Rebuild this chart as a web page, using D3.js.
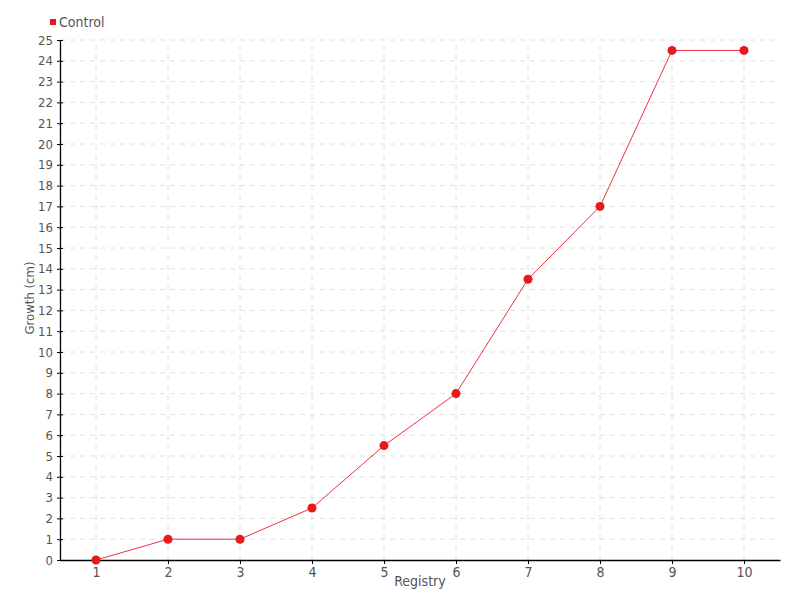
<!DOCTYPE html>
<html><head><meta charset="utf-8">
<script src="https://cdn.jsdelivr.net/npm/d3@7"></script>
<style>
body{margin:0;background:#fff;}
text{font-family:"DejaVu Sans Condensed","Liberation Sans Narrow",sans-serif;font-stretch:condensed;}
</style></head>
<body>
<svg id="c" width="800" height="600"></svg>
<script>
const registry = [1,2,3,4,5,6,7,8,9,10];
const control = [0,1,1,2.5,5.5,8,13.5,17,24.5,24.5];
const yTicks = d3.range(0,26);
const seriesName = "Control";
const color = "#e41a1c";

const svg = d3.select("#c");
const m = {l:60, r:20, t:40, b:40};
const W = 800, H = 600;
const x = d3.scaleLinear().domain([0.5,10.5]).range([m.l, W-m.r]);
const y = d3.scaleLinear().domain([0,25]).range([H-m.b, m.t]);

const g = svg.append("g");
g.selectAll(".gx").data(registry).enter().append("line")
 .attr("x1",d=>x(d)).attr("x2",d=>x(d)).attr("y1",y(0)).attr("y2",y(25))
 .attr("stroke","#e0e0e0").attr("stroke-dasharray","5,5");
g.selectAll(".gy").data(yTicks.filter(d=>d>0)).enter().append("line")
 .attr("x1",x(0.5)).attr("x2",x(10.5)).attr("y1",d=>y(d)).attr("y2",d=>y(d))
 .attr("stroke","#e0e0e0").attr("stroke-dasharray","5,5");

const xa = svg.append("g").attr("transform",`translate(0,${y(0)})`)
 .call(d3.axisBottom(x).tickValues(registry).tickSize(4).tickSizeOuter(0).tickPadding(3));
const ya = svg.append("g").attr("transform",`translate(${x(0.5)},0)`)
 .call(d3.axisLeft(y).tickValues(yTicks).tickSize(3).tickSizeOuter(0).tickPadding(4));
[xa,ya].forEach(a=>{
  a.select(".domain").attr("stroke","#000").attr("stroke-width",1.3);
  a.selectAll(".tick line").attr("stroke","#000");
  a.selectAll("text").attr("fill","#555").attr("font-size",14);
});
ya.selectAll("text").attr("font-size",13);
ya.selectAll(".tick line").attr("x2",3).attr("x1",-3);

svg.append("text").attr("x",420).attr("y",586).attr("text-anchor","middle")
 .attr("fill","#555").attr("font-size",14).text("Registry");
svg.append("text").attr("transform","translate(34,298) rotate(-90)").attr("text-anchor","middle")
 .attr("fill","#555").attr("font-size",13).text("Growth (cm)");

const line = d3.line().x((d,i)=>x(registry[i])).y(d=>y(d));
svg.append("path").datum(control).attr("d",line).attr("fill","none")
 .attr("stroke","#f0303f").attr("stroke-width",1);
svg.selectAll(".pt").data(control).enter().append("circle")
 .attr("cx",(d,i)=>x(registry[i])).attr("cy",d=>y(d)).attr("r",4.5).attr("fill",color);

svg.append("rect").attr("x",50).attr("y",19).attr("width",6).attr("height",6).attr("fill",color);
svg.append("text").attr("x",59).attr("y",27).attr("fill","#555").attr("font-size",14).text(seriesName);
</script>
</body></html>
